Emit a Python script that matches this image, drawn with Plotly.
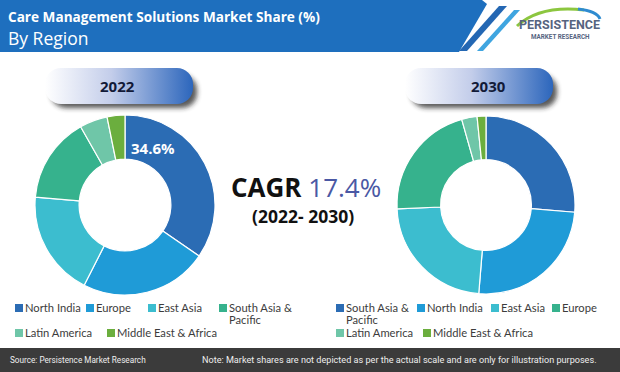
import base64
import plotly.graph_objects as go

W, H = 620, 372

# ---------------- data ----------------
labels_2022 = ["North India", "Europe", "East Asia", "South Asia & Pacific",
               "Latin America", "Middle East & Africa"]
values_2022 = [34.6, 22.9, 18.9, 15.4, 5.0, 3.2]

labels_2030 = ["South Asia & Pacific", "North India", "East Asia", "Europe",
               "Latin America", "Middle East & Africa"]
values_2030 = [26.3, 25.0, 23.0, 21.3, 2.8, 1.6]

slice_colors = ["#2B6CB4", "#1F9BD7", "#3CBDCF", "#36B28D", "#6FC6A8", "#6BAE3E"]

cagr_value = "17.4%"
cagr_period = "(2022- 2030)"
years = ["2022", "2030"]


def X(x):
    return x / W


def Y(y):
    return 1 - y / H


fig = go.Figure()

pie_common = dict(sort=False, direction="clockwise", rotation=0, hole=0.51,
                  textinfo="none", showlegend=False, hoverinfo="label+percent")

fig.add_trace(go.Pie(labels=labels_2022, values=values_2022,
                     marker=dict(colors=slice_colors, line=dict(color="white", width=1.2)),
                     domain=dict(x=[X(35), X(215)], y=[Y(295), Y(115)]), **pie_common))
fig.add_trace(go.Pie(labels=labels_2030, values=values_2030,
                     marker=dict(colors=slice_colors, line=dict(color="white", width=1.2)),
                     domain=dict(x=[X(397), X(575)], y=[Y(294), Y(116)]), **pie_common))

shapes = []
annotations = []

# header band
hdr = (f"M 0,{Y(0)} L {X(482)},{Y(0)} L {X(487)},{Y(4)} L {X(459)},{Y(52)} "
       f"L 0,{Y(52)} Z")
shapes.append(dict(type="path", path=hdr, xref="paper", yref="paper",
                   fillcolor="#1E6FBE", line=dict(width=0), layer="below"))
# diagonal stripes
s1 = f"M {X(499)},{Y(6)} L {X(507)},{Y(6)} L {X(467)},{Y(51)} L {X(459)},{Y(51)} Z"
s2 = f"M {X(514)},{Y(10)} L {X(520)},{Y(10)} L {X(483)},{Y(51)} L {X(477)},{Y(51)} Z"
shapes.append(dict(type="path", path=s1, xref="paper", yref="paper",
                   fillcolor="#2467B3", line=dict(width=0)))
shapes.append(dict(type="path", path=s2, xref="paper", yref="paper",
                   fillcolor="#3FA5E0", line=dict(width=0)))
# logo swoosh
sw1 = f"M {X(517)},{Y(26)} Q {X(540)},{Y(5)} {X(584)},{Y(10)}"
sw2 = f"M {X(578)},{Y(9)} Q {X(597)},{Y(11)} {X(600)},{Y(19)}"
shapes.append(dict(type="path", path=sw1, xref="paper", yref="paper",
                   line=dict(color="#8CC63F", width=3)))
shapes.append(dict(type="path", path=sw2, xref="paper", yref="paper",
                   line=dict(color="#2E8BD0", width=3)))

# footer
shapes.append(dict(type="rect", xref="paper", yref="paper", x0=0, x1=1,
                   y0=0, y1=Y(348), fillcolor="#3B3B3B", line=dict(width=0)))

TF = "Open Sans, Segoe UI, sans-serif"


def ann(x, y, text, font, xanchor="center", yanchor="middle", **kw):
    annotations.append(dict(x=X(x), y=Y(y), xref="paper", yref="paper", xanchor=xanchor,
                            yanchor=yanchor, showarrow=False, text=text, font=font, **kw))


ann(6, 17, "<b>Care Management Solutions Market Share (%)</b>",
    dict(family=TF, size=13.6, color="white"), xanchor="left")
ann(6, 38, "By Region", dict(family=TF, size=17.5, color="white"), xanchor="left")
# logo text
ann(559, 25, "<b>PERSISTENCE</b>", dict(family="Roboto, sans-serif", size=12.5, color="#56647F"))
ann(560, 37, "<b>MARKET RESEARCH</b>", dict(family="Roboto, sans-serif", size=6.3, color="#56647F"))


# year pills (gradient + shadow as inline svg images)
def pill_svg():
    svg = ("<svg xmlns='http://www.w3.org/2000/svg' width='160' height='46' viewBox='0 0 160 46'>"
           "<defs><linearGradient id='g' x1='0' x2='1' y1='0' y2='0'>"
           "<stop offset='0' stop-color='#FFFFFF'/><stop offset='0.45' stop-color='#C3CDEA'/>"
           "<stop offset='1' stop-color='#2C66BC'/></linearGradient>"
           "<filter id='s' x='-20%' y='-30%' width='140%' height='180%'>"
           "<feGaussianBlur stdDeviation='2.5'/></filter></defs>"
           "<rect x='6' y='7' width='146' height='33' rx='15' fill='#222' opacity='0.75' filter='url(#s)'/>"
           "<rect x='0' y='0' width='148' height='36' rx='16' fill='url(#g)'/>"
           "</svg>")
    return "data:image/svg+xml;base64," + base64.b64encode(svg.encode()).decode()


images = []
for px in [45, 405]:
    images.append(dict(source=pill_svg(), xref="paper", yref="paper",
                       x=X(px), y=Y(68), sizex=160 / W, sizey=46 / H,
                       xanchor="left", yanchor="top", sizing="stretch", layer="above"))
for yr, cx in zip(years, [117, 488]):
    ann(cx, 86, f"<b>{yr}</b>", dict(family=TF, size=15, color="#121A38"))

# value label on largest 2022 slice
ann(153, 148, f"<b>{values_2022[0]}%</b>", dict(family=TF, size=15, color="white"))

# CAGR
ann(306, 187, f"<b>CAGR</b> <span style='color:#4A58A4'>{cagr_value}</span>",
    dict(family=TF, size=26, color="#111111"))
ann(303, 216, f"<b>{cagr_period}</b>", dict(family=TF, size=17.5, color="#111111"))

# legends (manual)
LF = "Lato, sans-serif"


def legend(labels, items):
    for lab, (sx, sy), col in zip(labels, items, slice_colors):
        shapes.append(dict(type="rect", xref="paper", yref="paper",
                           x0=X(sx), x1=X(sx + 8), y0=Y(sy + 4), y1=Y(sy - 4),
                           fillcolor=col, line=dict(width=0)))
        font = dict(family=LF, size=11.2, color="#3C3C3C")
        if "& Pacific" in lab:
            first, second = lab.split("& ")
            ann(sx + 9, sy - 1, (first + "&").replace("&", "&amp;"), font,
                xanchor="left", borderpad=0)
            ann(sx + 9, sy + 11, second, font, xanchor="left", borderpad=0)
        else:
            ann(sx + 9, sy - 1, lab.replace("&", "&amp;"), font, xanchor="left", borderpad=0)


legend(labels_2022, [(15, 308), (86, 308), (148, 308), (219, 308), (15, 333), (107, 333)])
legend(labels_2030, [(336, 308), (417, 308), (491, 308), (552, 308), (336, 333), (423, 333)])

# footer text
FF = "Roboto, Liberation Sans, sans-serif"
ann(8, 360, "Source: Persistence Market Research",
    dict(family=FF, size=8.2, color="#EEEEEE"), xanchor="left")
ann(200, 360,
    "Note: Market shares are not depicted as per the actual scale and are only for illustration purposes.",
    dict(family=FF, size=9.1, color="#EEEEEE"), xanchor="left")

fig.update_layout(width=W, height=H, margin=dict(l=0, r=0, t=0, b=0),
                  paper_bgcolor="white", plot_bgcolor="white",
                  shapes=shapes, annotations=annotations, images=images)

fig.write_html("out.html", config={"displayModeBar": False},
               post_script="document.body.style.margin='0';")
